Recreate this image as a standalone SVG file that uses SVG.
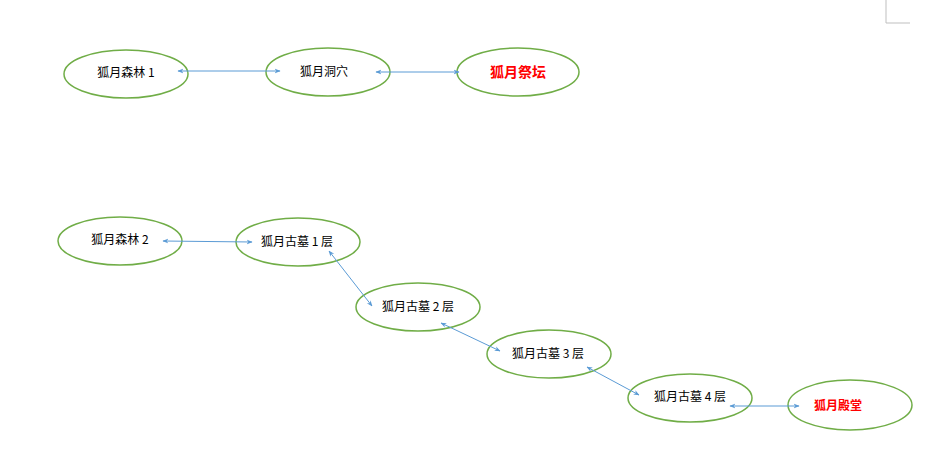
<svg xmlns="http://www.w3.org/2000/svg" width="929" height="452" viewBox="0 0 929 452">
<style>
.n{fill:#fff;stroke:#70ad47;stroke-width:1.5}
.t{font-family:"Noto Sans CJK SC","Liberation Sans",sans-serif;font-size:12px;fill:#000;text-anchor:middle}
.r{font-family:"Noto Sans CJK SC","Liberation Sans",sans-serif;font-weight:bold;fill:#ff0000;text-anchor:middle}
.c{stroke:#5b9bd5;stroke-width:1;fill:none;marker-start:url(#a);marker-end:url(#a)}
</style>
<defs>
<marker id="a" viewBox="0 0 10 10" refX="9" refY="5" markerWidth="6" markerHeight="6" markerUnits="userSpaceOnUse" orient="auto-start-reverse">
<path d="M0,1 L10,5 L0,9 L3,5 Z" fill="#5b9bd5"/>
</marker>
</defs>
<rect width="929" height="452" fill="#fff"/>
<path d="M886,0 V23 H910" fill="none" stroke="#bfbfbf" stroke-width="1"/>
<g id="n1"><ellipse class="n" cx="126" cy="74" rx="62" ry="24"/><text class="t" x="126" y="77">狐月森林 1</text></g>
<g id="n2"><ellipse class="n" cx="328" cy="72" rx="62" ry="24"/><text class="t" x="324" y="76">狐月洞穴</text></g>
<g id="n3"><ellipse class="n" cx="518" cy="72" rx="61" ry="24"/><text class="r" x="518" y="77" font-size="14">狐月祭坛</text></g>
<g id="n4"><ellipse class="n" cx="120" cy="241" rx="62" ry="24"/><text class="t" x="120" y="244">狐月森林 2</text></g>
<g id="n5"><ellipse class="n" cx="298" cy="242" rx="62" ry="24"/><text class="t" x="297" y="246">狐月古墓 1 层</text></g>
<g id="n6"><ellipse class="n" cx="418" cy="307" rx="62" ry="24"/><text class="t" x="418" y="311">狐月古墓 2 层</text></g>
<g id="n7"><ellipse class="n" cx="549" cy="354" rx="62" ry="24"/><text class="t" x="548" y="358">狐月古墓 3 层</text></g>
<g id="n8"><ellipse class="n" cx="690" cy="398" rx="62" ry="24"/><text class="t" x="690" y="401">狐月古墓 4 层</text></g>
<g id="n9"><ellipse class="n" cx="850" cy="405" rx="62" ry="25"/><text class="r" x="838" y="410" font-size="12">狐月殿堂</text></g>
<g id="connectors">
<line class="c" x1="178" y1="71" x2="280" y2="71"/>
<line class="c" x1="376" y1="72" x2="459" y2="72"/>
<line class="c" x1="163" y1="241" x2="252" y2="242"/>
<line class="c" x1="329" y1="251" x2="372" y2="306"/>
<line class="c" x1="441" y1="323" x2="500" y2="351"/>
<line class="c" x1="587" y1="367" x2="639" y2="395"/>
<line class="c" x1="730" y1="406" x2="799" y2="406"/>
</g>
</svg>
